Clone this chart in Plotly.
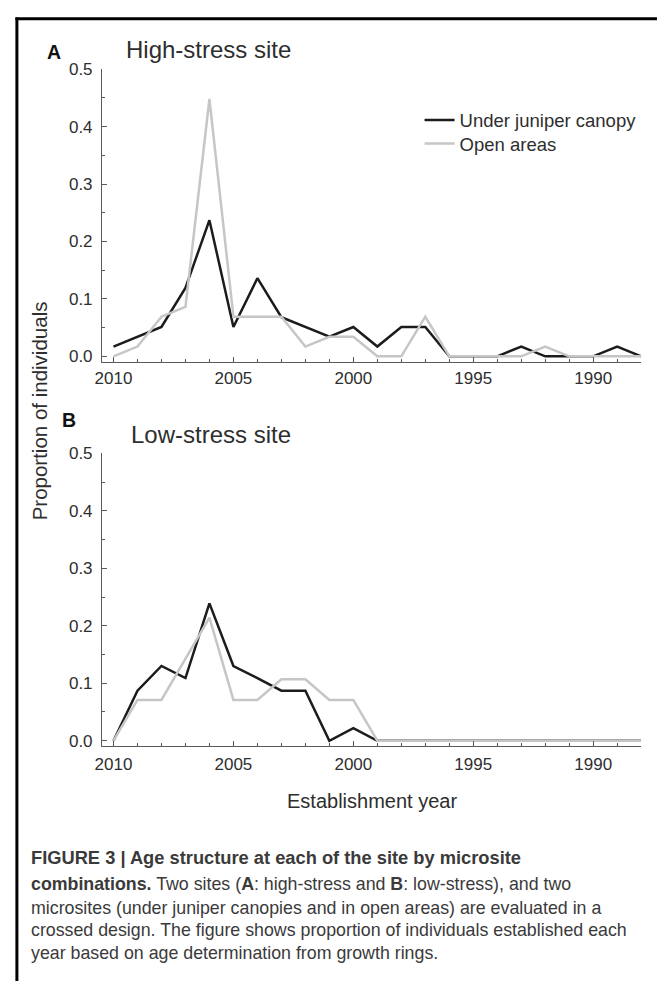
import plotly.graph_objects as go

# ---- data ----
years = [2010, 2009, 2008, 2007, 2006, 2005, 2004, 2003, 2002, 2001, 2000, 1999,
         1998, 1997, 1996, 1995, 1994, 1993, 1992, 1991, 1990, 1989, 1988]

high_canopy = [0.017, 0.034, 0.051, 0.119, 0.237, 0.051, 0.136, 0.068, 0.051, 0.034, 0.051, 0.017,
               0.051, 0.051, 0.0, 0.0, 0.0, 0.017, 0.0, 0.0, 0.0, 0.017, 0.0]
high_open = [0.0, 0.017, 0.069, 0.086, 0.448, 0.069, 0.069, 0.069, 0.017, 0.034, 0.034, 0.0,
             0.0, 0.069, 0.0, 0.0, 0.0, 0.0, 0.017, 0.0, 0.0, 0.0, 0.0]

low_canopy = [0.0, 0.087, 0.130, 0.109, 0.239, 0.130, 0.109, 0.087, 0.087, 0.0, 0.022, 0.0,
              0.0, 0.0, 0.0, 0.0, 0.0, 0.0, 0.0, 0.0, 0.0, 0.0, 0.0]
low_open = [0.0, 0.071, 0.071, 0.143, 0.214, 0.071, 0.071, 0.107, 0.107, 0.071, 0.071, 0.0,
            0.0, 0.0, 0.0, 0.0, 0.0, 0.0, 0.0, 0.0, 0.0, 0.0, 0.0]

series_names = ["Under juniper canopy", "Open areas"]
panel_titles = ["High-stress site", "Low-stress site"]
panel_letters = ["A", "B"]
x_ticks = [2010, 2005, 2000, 1995, 1990]
y_ticks = [0.0, 0.1, 0.2, 0.3, 0.4, 0.5]
x_title = "Establishment year"
y_title = "Proportion of individuals"
caption_lines = [
    "<b>FIGURE 3 | Age structure at each of the site by microsite</b>",
    "<b>combinations.</b> Two sites (<b>A</b>: high-stress and <b>B</b>: low-stress), and two",
    "microsites (under juniper canopies and in open areas) are evaluated in a",
    "crossed design. The figure shows proportion of individuals established each",
    "year based on age determination from growth rings.",
]

# ---- layout helpers ----
W, H = 657, 986
FONT = "Liberation Sans, Arial, sans-serif"
DARK = "#1c1c1c"
GREY = "#c6c6c6"
AXC = "#5a5a5a"
TXT = "#2e2e2e"

def px_x(x):
    return x / W

def px_y(y):
    return 1 - y / H

fig = go.Figure()

fig.add_trace(go.Scatter(x=years, y=high_canopy, mode="lines", name=series_names[0],
                         line=dict(color=DARK, width=2.5), xaxis="x", yaxis="y",
                         legend="legend"))
fig.add_trace(go.Scatter(x=years, y=high_open, mode="lines", name=series_names[1],
                         line=dict(color=GREY, width=2.5), xaxis="x", yaxis="y",
                         legend="legend2"))
fig.add_trace(go.Scatter(x=years, y=low_canopy, mode="lines", name=series_names[0],
                         line=dict(color=DARK, width=2.5), xaxis="x2", yaxis="y2",
                         showlegend=False))
fig.add_trace(go.Scatter(x=years, y=low_open, mode="lines", name=series_names[1],
                         line=dict(color=GREY, width=2.5), xaxis="x2", yaxis="y2",
                         showlegend=False))

xdom = [px_x(96), px_x(641)]
xr = [2010.48, 1988.0]

def xaxis(anchor, standoff):
    return dict(domain=xdom, range=xr, anchor=anchor, showline=True, linecolor=AXC,
                linewidth=1, showgrid=False, zeroline=False, ticks="inside",
                tickvals=x_ticks, ticklen=5, tickcolor=AXC, tickwidth=1,
                minor=dict(dtick=1, tick0=2010, ticks="inside", ticklen=3,
                           tickcolor=AXC, tickwidth=1, showgrid=False),
                tickfont=dict(family=FONT, size=17, color=TXT),
                ticklabelstandoff=standoff, fixedrange=True)

def yaxis(anchor, top, bottom, rng):
    return dict(domain=[px_y(bottom), px_y(top)], range=rng, anchor=anchor,
                showline=True, linecolor=AXC, linewidth=1, showgrid=False,
                zeroline=False, ticks="inside", tickvals=y_ticks,
                ticktext=[f"{v:.1f}" for v in y_ticks], ticklen=5,
                tickcolor=AXC, tickwidth=1,
                minor=dict(dtick=0.05, tick0=0, ticks="inside", ticklen=3,
                           tickcolor=AXC, tickwidth=1, showgrid=False),
                tickfont=dict(family=FONT, size=17, color=TXT),
                ticklabelstandoff=5, fixedrange=True)

annotations = []
annotations.append(dict(text=panel_titles[0], x=px_x(204), y=px_y(41), xref="paper", yref="paper",
                        showarrow=False, xanchor="center", yanchor="middle",
                        font=dict(family=FONT, size=24, color=TXT)))
annotations.append(dict(text=panel_titles[1], x=px_x(206), y=px_y(432), xref="paper", yref="paper",
                        showarrow=False, xanchor="center", yanchor="middle",
                        font=dict(family=FONT, size=24, color=TXT)))
annotations.append(dict(text="<b>" + panel_letters[0] + "</b>", x=px_x(48), y=px_y(44),
                        xref="paper", yref="paper", showarrow=False, xanchor="center",
                        yanchor="middle", font=dict(family=FONT, size=19.5, color="#111")))
annotations.append(dict(text="<b>" + panel_letters[1] + "</b>", x=px_x(63), y=px_y(417),
                        xref="paper", yref="paper", showarrow=False, xanchor="center",
                        yanchor="middle", font=dict(family=FONT, size=19.5, color="#111")))
annotations.append(dict(text=y_title, x=px_x(32.5), y=px_y(408), xref="paper", yref="paper",
                        showarrow=False, textangle=-90, xanchor="center", yanchor="middle",
                        font=dict(family=FONT, size=20.5, color=TXT)))
annotations.append(dict(text=x_title, x=px_x(369), y=px_y(803), xref="paper", yref="paper",
                        showarrow=False, xanchor="center", yanchor="middle",
                        font=dict(family=FONT, size=20, color=TXT)))

baselines = [867, 894.5, 918, 941, 963.5]
cap_sizes = [18.3, 17.8, 17.8, 17.8, 17.8]
for line, base, fs in zip(caption_lines, baselines, cap_sizes):
    annotations.append(dict(text=line, x=px_x(22), y=px_y(base - 0.36 * fs), xref="paper",
                            yref="paper", showarrow=False, xanchor="left", yanchor="middle",
                            align="left", font=dict(family=FONT, size=fs, color="#3a3a3a")))

shapes = [
    dict(type="line", xref="paper", yref="paper", x0=px_x(8.5), x1=1.0,
         y0=px_y(10), y1=px_y(10), line=dict(color="black", width=3)),
    dict(type="line", xref="paper", yref="paper", x0=px_x(10), x1=px_x(10),
         y0=px_y(8.5), y1=0.0, line=dict(color="black", width=3)),
]

leg_common = dict(xanchor="left", yanchor="middle", bgcolor="rgba(0,0,0,0)",
                  borderwidth=0, font=dict(family=FONT, size=18.5, color=TXT))

fig.update_layout(
    width=W, height=H, margin=dict(l=0, r=0, t=0, b=0),
    paper_bgcolor="white", plot_bgcolor="white",
    xaxis=xaxis("y", 0),
    yaxis=yaxis("x", 61, 358.3, [-0.0103, 0.5]),
    xaxis2=xaxis("y2", 3),
    yaxis2=yaxis("x2", 450.7, 747.7, [-0.0093, 0.5]),
    showlegend=True,
    legend=dict(x=px_x(417), y=px_y(113), **leg_common),
    legend2=dict(x=px_x(417), y=px_y(137), **leg_common),
    annotations=annotations,
    shapes=shapes,
)

fig.write_html(
    "out.html",
    config={"displayModeBar": False},
    post_script="document.body.style.margin='0px';document.body.style.overflow='hidden';",
)
